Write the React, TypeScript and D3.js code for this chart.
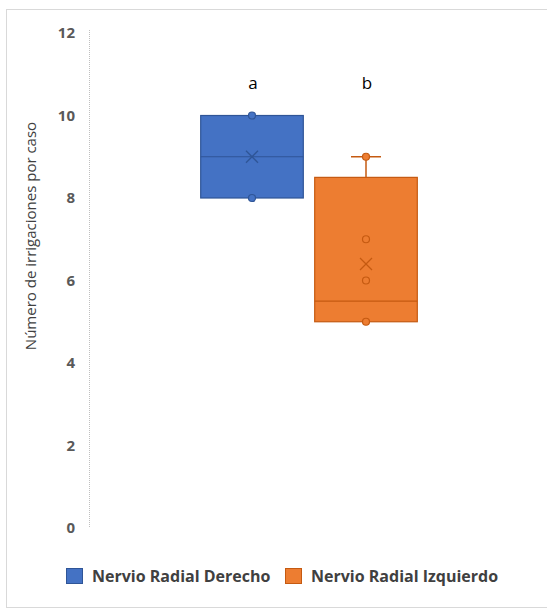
import React from "react";
import * as d3 from "d3";

const categories = ["Nervio Radial Derecho", "Nervio Radial Izquierdo"];
const q1 = [8, 5];
const median = [9, 5.5];
const q3 = [10, 8.5];
const whiskerMin = [8, 5];
const whiskerMax = [10, 9];
const meanVals = [9, 6.4];
const points = [[8, 10], [5, 6, 7, 9]];
const letters = ["a", "b"];
const yTicks = [0, 2, 4, 6, 8, 10, 12];
const fills = ["#4472C4", "#ED7D31"];
const strokes = ["#2F5597", "#C55A11"];

export default function App() {
  const W = 547, H = 610;
  const y = d3.scaleLinear().domain([0, 12]).range([528, 33]);
  const x = d3.scaleBand<string>().domain(categories).range([195, 423]).paddingInner(0.1).paddingOuter(0.05);
  const bw = x.bandwidth();
  return (
    <svg width={W} height={H} style={{ position: "absolute", left: 0, top: 0 }}>
      <rect x={0} y={0} width={W} height={H} fill="#fff" />
      <rect x={6.5} y={9.5} width={W} height={598} fill="none" stroke="#d9d9d9" />
      <line x1={89.5} x2={89.5} y1={y(12) - 3} y2={y(0)} stroke="#bfbfbf" strokeDasharray="1 1" />
      {yTicks.map((t) => (
        <text key={t} x={75} y={y(t)} dy="0.35em" textAnchor="end" fontFamily="'Open Sans', sans-serif" fontWeight="bold" fontSize={15} fill="#595959">{t}</text>
      ))}
      <text transform={`translate(36,${236}) rotate(-90)`} textAnchor="middle" fontFamily="'Open Sans', sans-serif" fontSize={15} fill="#404040">Número de irrigaciones por caso</text>
      {categories.map((c, i) => {
        const x0 = x(c)!;
        const cx = x0 + bw / 2;
        const mx = y(meanVals[i]);
        return (
          <g key={c}>
            {whiskerMax[i] > q3[i] && (
              <g stroke={strokes[i]} strokeWidth={1.5}>
                <line x1={cx} x2={cx} y1={y(q3[i])} y2={y(whiskerMax[i])} />
                <line x1={cx - 15} x2={cx + 15} y1={y(whiskerMax[i])} y2={y(whiskerMax[i])} />
              </g>
            )}
            {whiskerMin[i] < q1[i] && (
              <g stroke={strokes[i]} strokeWidth={1.5}>
                <line x1={cx} x2={cx} y1={y(q1[i])} y2={y(whiskerMin[i])} />
                <line x1={cx - 15} x2={cx + 15} y1={y(whiskerMin[i])} y2={y(whiskerMin[i])} />
              </g>
            )}
            <rect x={x0} y={y(q3[i])} width={bw} height={y(q1[i]) - y(q3[i])} fill={fills[i]} stroke={strokes[i]} strokeWidth={1.2} />
            <line x1={x0} x2={x0 + bw} y1={y(median[i])} y2={y(median[i])} stroke={strokes[i]} strokeWidth={1.2} />
            <g stroke={strokes[i]} strokeWidth={1.3}>
              <line x1={cx - 6} x2={cx + 6} y1={mx - 6} y2={mx + 6} />
              <line x1={cx - 6} x2={cx + 6} y1={mx + 6} y2={mx - 6} />
            </g>
            {points[i].map((p, j) => (
              <circle key={j} cx={cx} cy={y(p)} r={3.5} fill={fills[i]} stroke={strokes[i]} strokeWidth={1.2} />
            ))}
            <text x={cx + 1} y={89} textAnchor="middle" fontFamily="'Open Sans', sans-serif" fontSize={17} fill="#000">{letters[i]}</text>
          </g>
        );
      })}
      {categories.map((c, i) => {
        const lx = i === 0 ? 66 : 285;
        return (
          <g key={"l" + c}>
            <rect x={lx + 0.5} y={568.5} width={16} height={15} fill={fills[i]} stroke={strokes[i]} />
            <text x={lx + 26} y={576} dy="0.35em" fontFamily="'Open Sans', sans-serif" fontWeight="bold" fontSize={16} fill="#404040">{c}</text>
          </g>
        );
      })}
    </svg>
  );
}
